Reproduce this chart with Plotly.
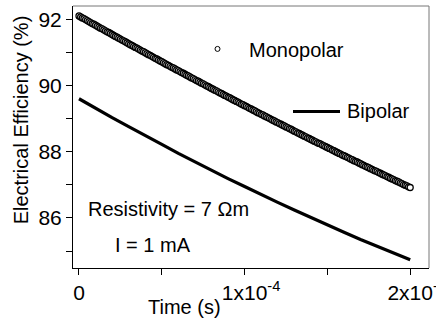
import plotly.graph_objects as go

# ---------------- data ----------------
# Monopolar: one point every 1 microsecond from 0 to 200 us
mono_eff = [
    92.10, 92.07, 92.04, 92.02, 91.99, 91.96, 91.93, 91.90, 91.87, 91.85,
    91.82, 91.79, 91.76, 91.73, 91.71, 91.68, 91.65, 91.62, 91.60, 91.57,
    91.54, 91.51, 91.48, 91.46, 91.43, 91.40, 91.37, 91.35, 91.32, 91.29,
    91.26, 91.23, 91.21, 91.18, 91.15, 91.13, 91.10, 91.07, 91.04, 91.02,
    90.99, 90.96, 90.93, 90.91, 90.88, 90.85, 90.82, 90.80, 90.77, 90.74,
    90.72, 90.69, 90.66, 90.63, 90.61, 90.58, 90.55, 90.53, 90.50, 90.47,
    90.45, 90.42, 90.39, 90.37, 90.34, 90.31, 90.29, 90.26, 90.23, 90.21,
    90.18, 90.15, 90.13, 90.10, 90.07, 90.05, 90.02, 89.99, 89.97, 89.94,
    89.91, 89.89, 89.86, 89.84, 89.81, 89.78, 89.76, 89.73, 89.70, 89.68,
    89.65, 89.63, 89.60, 89.57, 89.55, 89.52, 89.50, 89.47, 89.44, 89.42,
    89.39, 89.37, 89.34, 89.31, 89.29, 89.26, 89.24, 89.21, 89.18, 89.16,
    89.13, 89.11, 89.08, 89.06, 89.03, 89.01, 88.98, 88.95, 88.93, 88.90,
    88.88, 88.85, 88.83, 88.80, 88.78, 88.75, 88.73, 88.70, 88.68, 88.65,
    88.62, 88.60, 88.57, 88.55, 88.52, 88.50, 88.47, 88.45, 88.42, 88.40,
    88.37, 88.35, 88.32, 88.30, 88.27, 88.25, 88.23, 88.20, 88.18, 88.15,
    88.13, 88.10, 88.08, 88.05, 88.03, 88.00, 87.98, 87.95, 87.93, 87.90,
    87.88, 87.86, 87.83, 87.81, 87.78, 87.76, 87.73, 87.71, 87.69, 87.66,
    87.64, 87.61, 87.59, 87.56, 87.54, 87.52, 87.49, 87.47, 87.44, 87.42,
    87.40, 87.37, 87.35, 87.32, 87.30, 87.28, 87.25, 87.23, 87.20, 87.18,
    87.16, 87.13, 87.11, 87.09, 87.06, 87.04, 87.01, 86.99, 86.97, 86.94,
    86.92,
]
mono_time_step_s = 1e-6
mono_time = [i * mono_time_step_s for i in range(len(mono_eff))]

bipolar_time_us = [0, 10, 20, 30, 40, 50, 60, 70, 80, 90, 100,
                   110, 120, 130, 140, 150, 160, 170, 180, 190, 200]
bipolar_eff = [89.60, 89.31, 89.03, 88.76, 88.48, 88.22, 87.95, 87.69, 87.44, 87.19, 86.95,
               86.70, 86.47, 86.24, 86.01, 85.79, 85.57, 85.35, 85.15, 84.94, 84.74]
bipolar_time = [t * 1e-6 for t in bipolar_time_us]

x_tickvals = [0, 1e-4, 2e-4]
hide = '<sup><span style="color:rgba(0,0,0,0)">-4</span></sup>'
x_ticktext = ["0", hide + "1x10<sup>-4</sup>", hide + "2x10<sup>-4</sup>"]
y_tickvals = [86, 88, 90, 92]

series_names = ["Monopolar", "Bipolar"]
note_lines = ["Resistivity = 7 Ωm", "I = 1 mA"]
x_title = "Time (s)"
y_title = "Electrical Efficiency (%)"

# ---------------- layout geometry ----------------
W, H = 436, 324
L, R, T, B = 73, 7, 6, 55.5
PW, PH = W - L - R, H - T - B
FONT = "Arial, Liberation Sans, sans-serif"


def px(x):
    return (x - L) / PW


def py(y):
    return (H - B - y) / PH


fig = go.Figure()
fig.add_trace(go.Scatter(
    x=bipolar_time, y=bipolar_eff, mode="lines", name=series_names[1],
    line=dict(color="black", width=3.2), showlegend=False))
fig.add_trace(go.Scatter(
    x=mono_time, y=mono_eff, mode="markers", name=series_names[0],
    marker=dict(symbol="circle", size=6, color="white",
                line=dict(color="black", width=1.3)), showlegend=False))

axis_common = dict(showgrid=False, zeroline=False, showline=True, linecolor="black",
                   linewidth=1, ticks="outside", ticklen=6, tickwidth=1, tickcolor="black",
                   ticklabeloverflow="allow", automargin=False,
                   tickfont=dict(family=FONT, size=21, color="black"))

fig.update_xaxes(range=[-3.62e-6, 2.1135e-4], tickmode="array", tickvals=x_tickvals,
                 ticktext=x_ticktext,
                 minor=dict(tickmode="array", tickvals=[0.5e-4, 1.5e-4], ticks="outside",
                            ticklen=6, tickcolor="black", tickwidth=1),
                 **axis_common)
fig.update_yaxes(range=[84.49, 92.40], tickmode="array", tickvals=y_tickvals,
                 minor=dict(tickmode="array", tickvals=[85, 87, 89, 91], ticks="outside",
                            ticklen=6, tickcolor="black", tickwidth=1),
                 **axis_common)

shapes = [
    dict(type="line", xref="paper", yref="paper", x0=0, x1=1, y0=1, y1=1,
         line=dict(color="#777777", width=1)),
    dict(type="line", xref="paper", yref="paper", x0=1, x1=1, y0=0, y1=1,
         line=dict(color="#777777", width=1)),
    dict(type="circle", xref="paper", yref="paper", x0=px(215), x1=px(220),
         y0=py(51.5), y1=py(46.5), line=dict(color="black", width=1), fillcolor="white"),
    dict(type="line", xref="paper", yref="paper", x0=px(293), x1=px(340),
         y0=py(111.7), y1=py(111.7), line=dict(color="black", width=3)),
]

txt = dict(family=FONT, size=20, color="black")
annotations = [
    dict(text=series_names[0], x=px(247), y=py(50), xanchor="left", yanchor="middle"),
    dict(text=series_names[1], x=px(345), y=py(111.7), xanchor="left", yanchor="middle"),
    dict(text=note_lines[0], x=px(86), y=py(209), xanchor="left", yanchor="middle"),
    dict(text=note_lines[1], x=px(113), y=py(245), xanchor="left", yanchor="middle"),
    dict(text=x_title, x=px(184), y=py(308), xanchor="center", yanchor="middle"),
    dict(text=y_title, x=px(20.5), y=py(120), xanchor="center", yanchor="middle",
         textangle=-90),
]
for a in annotations:
    a.update(xref="paper", yref="paper", showarrow=False, font=txt)

fig.update_layout(width=W, height=H, margin=dict(l=L, r=R, t=T, b=B, autoexpand=False),
                  paper_bgcolor="white", plot_bgcolor="white",
                  shapes=shapes, annotations=annotations, showlegend=False)

fig.write_html("out.html")
